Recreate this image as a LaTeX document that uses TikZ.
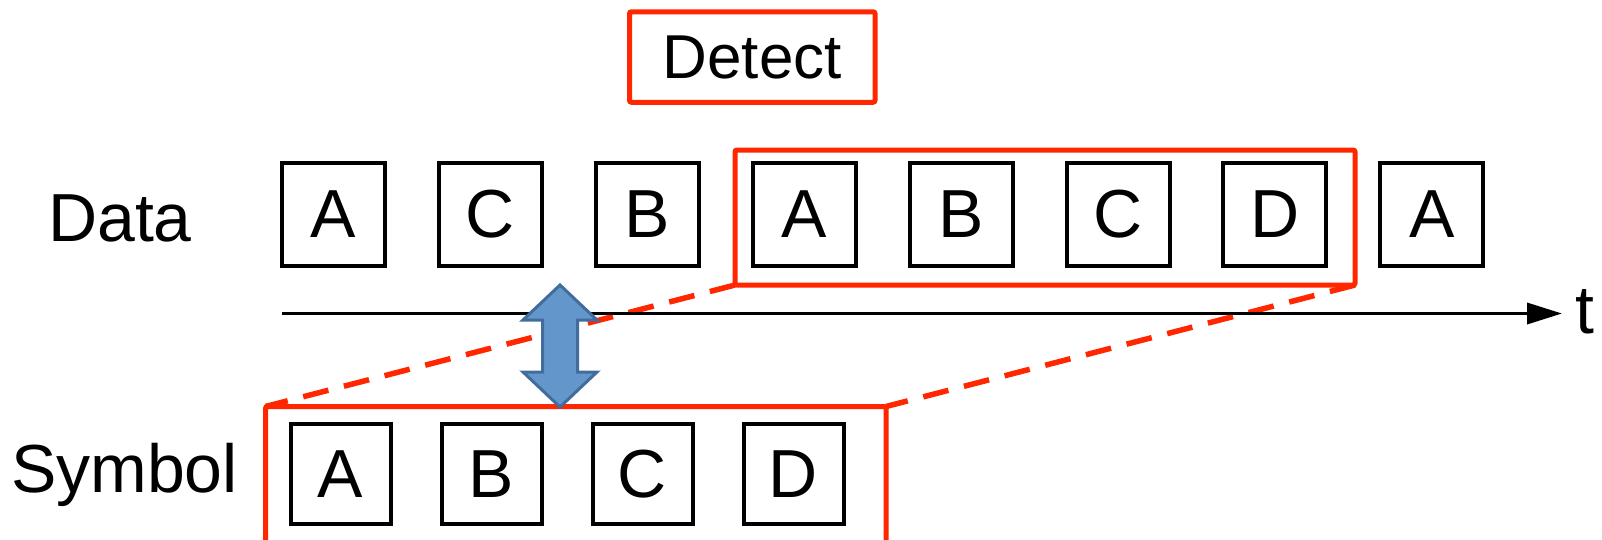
\documentclass[tikz,border=0pt]{standalone}
\usepackage{fontspec}
\setmainfont{Liberation Sans}
\usetikzlibrary{arrows.meta}
\definecolor{markred}{RGB}{255,38,0}
\definecolor{arrowfill}{RGB}{99,151,204}
\definecolor{arrowedge}{RGB}{66,108,158}
\begin{document}
\begin{tikzpicture}[x=1pt,y=-1pt,
  bigfont/.style={font=\fontsize{68}{80}\selectfont},
  letterbox/.style={draw=black, line width=4pt, minimum size=103pt, inner sep=0pt, outer sep=0pt, bigfont},
  symbox/.style={letterbox, minimum size=100pt},
  rowlabel/.style={anchor=base, inner sep=0pt, bigfont},
  redframe/.style={draw=markred, line width=5pt, rounded corners=2pt, inner sep=0pt, outer sep=0pt},
  zoomline/.style={draw=markred, line width=5.5pt, dash pattern=on 26pt off 16pt},
]
\useasboundingbox (0,0) rectangle (1602,539);
\clip (0,0) rectangle (1602,539);

% row labels
\node[rowlabel] (datalbl) at (120,241) {Data};
\node[rowlabel] (symlbl) at (124.5,492) {Symbol};

% incoming data stream
\foreach \l [count=\i] in {A,C,B,A,B,C,D,A}
  \node[letterbox] (d\i) at ({333.5+156.9*(\i-1)},214.5) {\l};

% detected symbol sequence
\foreach \l [count=\i] in {A,B,C,D}
  \node[symbox] (s\i) at ({340.5+151*(\i-1)},474) {\l};

% detection label
\node[redframe, minimum width=245.5pt, minimum height=90.5pt,
      font=\fontsize{62}{74}\selectfont] (detect) at (752.25,57) {Detect};

% frame around the matched window in the stream
\node[redframe, minimum width=620pt, minimum height=135pt] (window) at (1045,217.5) {};

% frame around the symbol sequence (runs off the bottom edge)
\node[redframe, minimum width=620.5pt, minimum height=160pt] (symframe) at (575.75,486.5) {};

% zoom lines from the window to the symbol frame
\draw[zoomline] (window.south west) -- (symframe.north west);
\draw[zoomline] (window.south east) -- (symframe.north east);

% time axis
\coordinate (axstart) at (282,313.5);
\coordinate (axend) at (1562,313.5);
\draw[line width=3.5pt, -{Triangle[length=35pt,width=21pt]}] (axstart) -- (axend);
\node[rowlabel] (t) at (1585,333) {t};

% correspondence arrow between stream and symbols
\path[draw=arrowedge, fill=arrowfill, line width=3pt, line join=miter]
  (560,285) -- (597,320) -- (577.5,320) -- (577.5,372) -- (597,372)
  -- (560,407) -- (523,372) -- (542.5,372) -- (542.5,320) -- (523,320) -- cycle;
\end{tikzpicture}
\end{document}
